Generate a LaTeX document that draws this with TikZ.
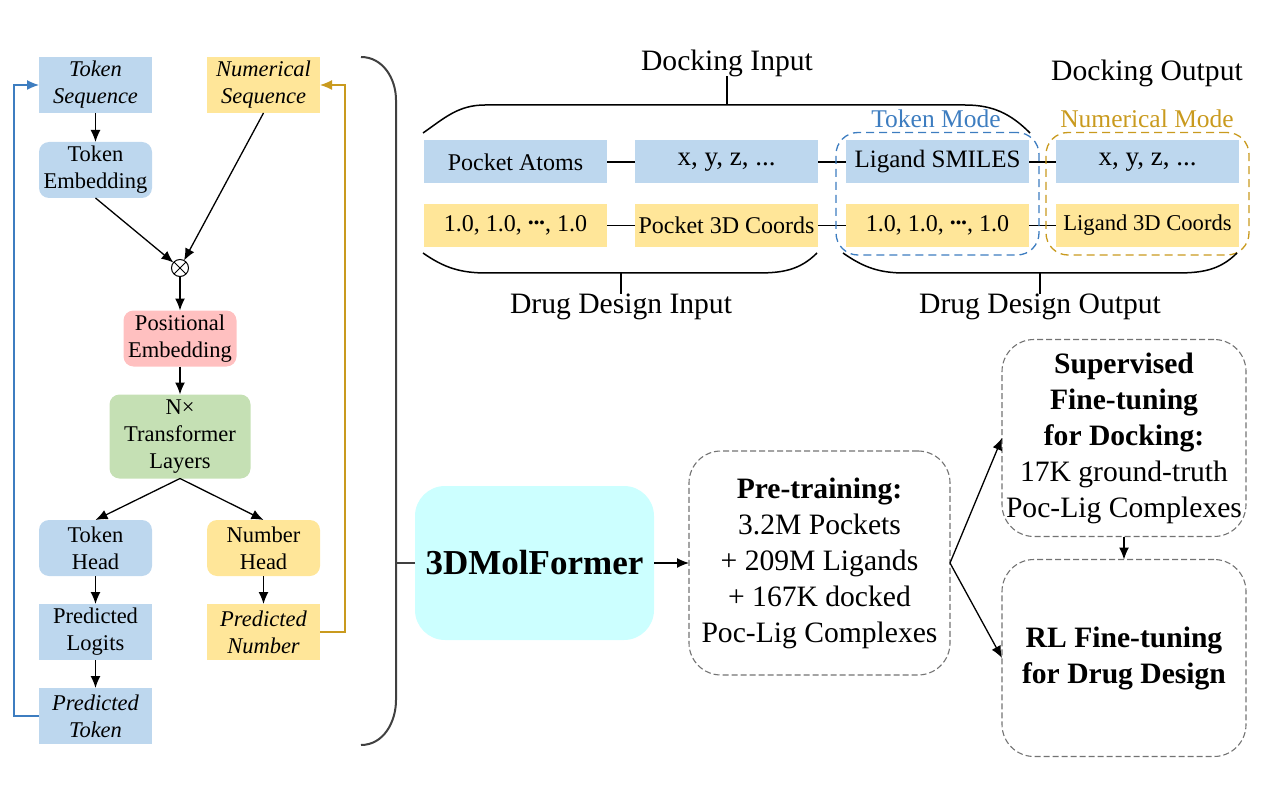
\documentclass[tikz,border=0pt]{standalone}
\usepackage{fontspec}
\setmainfont{Liberation Serif}
\usetikzlibrary{positioning,arrows.meta,fit}
\definecolor{tokblue}{HTML}{BDD7EE}
\definecolor{numyel}{HTML}{FFE699}
\definecolor{pospink}{HTML}{FFC0C0}
\definecolor{layergreen}{HTML}{C5E0B4}
\definecolor{molcyan}{HTML}{CCFFFF}
\definecolor{lineblue}{HTML}{3D7DC0}
\definecolor{linegold}{HTML}{C99A1E}
\newcommand\colfont{\fontsize{22.5}{27}\selectfont}
\newcommand\seqfont{\fontsize{24}{28}\selectfont}
\newcommand\bigfont{\fontsize{29.6}{36}\selectfont}
\newcommand\middots{\raisebox{.3em}{\bfseries.\kern-.02em.\kern-.02em.}}

\begin{document}
\begin{tikzpicture}[x=1pt,y=-1pt,
    every node/.style={inner sep=0pt,outer sep=0pt,align=center},
    col/.style={minimum width=113pt,minimum height=56pt,font=\colfont},
    tokbox/.style={col,fill=tokblue},
    numbox/.style={col,fill=numyel},
    rnd/.style={rounded corners=10pt},
    seqbox/.style={minimum width=183pt,minimum height=43pt,font=\seqfont},
    arr/.style={-{Latex[length=12pt,width=10pt]},line width=1.3pt},
    brk/.style={line width=1.5pt},
    mode/.style={draw,line width=1.3pt,dash pattern=on 8pt off 5pt,rounded corners=22pt,inner xsep=10pt,inner ysep=8pt},
    stage/.style={draw=black!55,line width=1.1pt,dash pattern=on 6pt off 3pt,rounded corners=32pt,font=\bigfont}]

    \useasboundingbox (0,0) rectangle (1279,786);

    % model column
    \node [tokbox,font=\colfont\itshape] (ts) at (95.5,85) {Token\\Sequence};
    \node [numbox,font=\colfont\itshape] (ns) at (263.5,85) {Numerical\\Sequence};
    \node [tokbox,rnd,below=29pt of ts] (te) {Token\\Embedding};
    \node [circle,draw,minimum size=17pt,line width=1pt,
        path picture={\draw (path picture bounding box.north west) -- (path picture bounding box.south east)
        (path picture bounding box.south west) -- (path picture bounding box.north east);}] (mul) at (180,268) {};
    \node [col,rnd,fill=pospink,below=34pt of mul] (pe) {Positional\\Embedding};
    \node [col,rnd,fill=layergreen,minimum width=141pt,minimum height=84pt,below=28pt of pe] (tl) {N×\\Transformer\\Layers};
    \node [tokbox,rnd] (th) at (95.5,548) {Token\\Head};
    \node [numbox,rnd] (nh) at (263.5,548) {Number\\Head};
    \node [tokbox,below=28pt of th] (pl) {Predicted\\Logits};
    \node [tokbox,font=\colfont\itshape,below=28pt of pl] (pt) {Predicted\\Token};
    \node [numbox,font=\colfont\itshape,below=28pt of nh] (pn) {Predicted\\Number};

    \draw [arr] (ts) -- (te);
    \draw [arr] (te.south) -- (mul);
    \draw [arr] (ns.south) -- (mul);
    \draw [arr] (mul) -- (pe);
    \draw [arr] (pe) -- (tl);
    \draw [arr] (tl.south) -- (th.north);
    \draw [arr] (tl.south) -- (nh.north);
    \draw [arr] (th) -- (pl);
    \draw [arr] (pl) -- (pt);
    \draw [arr] (nh) -- (pn);
    \draw [arr,lineblue] (pt.west) -- ++(-25,0) |- (ts.west);
    \draw [arr,linegold] (pn.east) -- ++(25,0) |- (ns.east);

    % bracket
    \draw [line width=2pt,black!75] (361,57) to[out=0,in=90] (396,100) -- (396,700) to[out=-90,in=0] (361,745);

    % sequences
    \node [seqbox,fill=tokblue] (pa) at (515.5,162) {Pocket Atoms};
    \node [seqbox,fill=tokblue,font=\fontsize{27}{30}\selectfont,right=28pt of pa] (x1) {x, y, z, ...};
    \node [seqbox,fill=tokblue,font=\fontsize{25}{30}\selectfont,right=28pt of x1] (ls) {Ligand SMILES};
    \node [seqbox,fill=tokblue,font=\fontsize{27}{30}\selectfont,right=27pt of ls] (x2) {x, y, z, ...};
    \node [seqbox,fill=numyel] (v1) at (515.5,225.5) {1.0, 1.0, \middots, 1.0};
    \node [seqbox,fill=numyel,right=28pt of v1] (pc) {Pocket 3D Coords};
    \node [seqbox,fill=numyel,right=28pt of pc] (v2) {1.0, 1.0, \middots, 1.0};
    \node [seqbox,fill=numyel,font=\fontsize{22.6}{27}\selectfont,right=27pt of v2] (lc) {Ligand 3D Coords};
    \draw [line width=1.3pt] (pa) -- (x1) -- (ls) -- (x2);
    \draw [line width=1.3pt] (v1) -- (pc) -- (v2) -- (lc);

    \node [mode,draw=lineblue,fit=(ls)(v2)] (tm) {};
    \node [mode,draw=linegold,fit=(x2)(lc)] (nm) {};
    \node [font=\fontsize{25.5}{30}\selectfont,text=lineblue] (tml) at (936,119) {Token Mode};
    \node [font=\fontsize{25.5}{30}\selectfont,text=linegold] (nml) at (1147,119) {Numerical Mode};

    \node [font=\bigfont] (di) at (727,63) {Docking Input};
    \node [font=\bigfont] (do) at (1147,73) {Docking Output};
    \node [font=\bigfont] (ddi) at (621,307) {Drug Design Input};
    \node [font=\bigfont] (ddo) at (1040,307) {Drug Design Output};
    \draw [brk] (423,133) to[out=35,in=180] (485,105) -- (965,105) to[out=0,in=135] (1030,133);
    \draw [brk] (727,105) -- (di.south);
    \draw [brk] (423,253) to[out=-35,in=180] (487,273) -- (757,273) to[out=0,in=-135] (817,253);
    \draw [brk] (621,273) -- (ddi.north);
    \draw [brk] (843,253) to[out=-35,in=180] (905,273) -- (1175,273) to[out=0,in=-135] (1237,253);
    \draw [brk] (1040,273) -- (ddo.north);

    % training
    \node [fill=molcyan,rounded corners=30pt,minimum width=239pt,minimum height=154pt,
        font=\fontsize{35}{40}\selectfont\bfseries] (mol) at (534.5,563) {3DMolFormer};
    \draw [line width=2pt,black!75] (mol.west) -- (396,563);
    \node [stage,minimum width=261pt,minimum height=224pt,right=35pt of mol] (pre)
        {\textbf{Pre-training:}\\3.2M Pockets\\+ 209M Ligands\\+ 167K docked\\Poc-Lig Complexes};
    \node [stage,minimum width=244pt,minimum height=197pt] (sup) at (1124,438)
        {\textbf{Supervised}\\\textbf{Fine-tuning}\\\textbf{for Docking:}\\17K ground-truth\\Poc-Lig Complexes};
    \node [stage,minimum width=244pt,minimum height=197pt,below=23pt of sup] (rl)
        {\textbf{RL Fine-tuning}\\\textbf{for Drug Design}};
    \draw [arr] (mol) -- (pre);
    \draw [arr] (pre.east) -- (sup.west);
    \draw [arr] (pre.east) -- (rl.west);
    \draw [arr] (sup) -- (rl);
\end{tikzpicture}
\end{document}
